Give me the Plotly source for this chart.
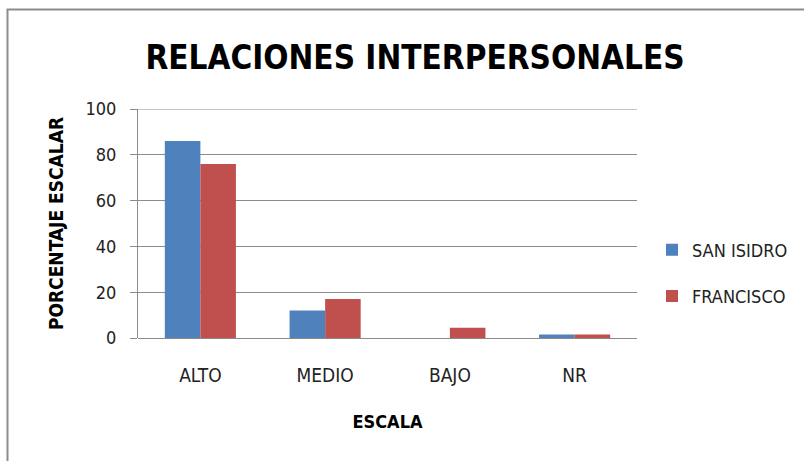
import plotly.graph_objects as go

categories = ["ALTO", "MEDIO", "BAJO", "NR"]
san_isidro = [86, 12, 0, 1.5]
francisco = [76, 17, 4.5, 1.5]
y_ticks = [0, 20, 40, 60, 80, 100]

W, H = 804, 461
L, R, T, B = 138, 167, 109, 123
pw, ph = W - L - R, H - T - B

def px_x(x):
    return (x - L) / pw

def px_y(y):
    return (H - B - y) / ph

font_main = "Liberation Sans Narrow, Arial Narrow, DejaVu Sans Condensed, Arial, sans-serif"
grid_col = "#8C8C8C"

fig = go.Figure()
fig.add_trace(go.Bar(x=categories, y=san_isidro, name="SAN ISIDRO",
                     marker=dict(color="#4F81BD", line=dict(width=0)),
                     legendgroup="a"))
fig.add_trace(go.Bar(x=categories, y=francisco, name="FRANCISCO",
                     marker=dict(color="#C0504D", line=dict(width=0)),
                     legendgroup="b"))

fig.update_layout(
    width=W, height=H,
    margin=dict(l=L, r=R, t=T, b=B, autoexpand=False),
    paper_bgcolor="white", plot_bgcolor="white",
    barmode="group", bargap=0.43, bargroupgap=0,
    font=dict(family=font_main, size=16, color="#222"),
    title=dict(text="<b>RELACIONES INTERPERSONALES</b>",
               x=px_x(415), xref="paper", xanchor="center",
               y=1 - 57 / H, yref="container", yanchor="middle",
               font=dict(size=33, color="black", family=font_main)),
    xaxis=dict(showgrid=False, showline=False, ticks="",
               ticklabelstandoff=24,
               tickfont=dict(size=19, color="#222"),
               title=dict(text="<b>ESCALA</b>", standoff=30,
                          font=dict(size=18, color="black"))),
    yaxis=dict(range=[y_ticks[0], y_ticks[-1]], tickvals=y_ticks, showgrid=True,
               gridcolor=grid_col, gridwidth=1,
               showline=True, linecolor=grid_col, linewidth=1,
               ticks="outside", ticklen=7, tickcolor=grid_col,
               ticklabelstandoff=10,
               zeroline=True, zerolinecolor=grid_col, zerolinewidth=1,
               tickfont=dict(size=18, color="#222"),
               title=dict(text="<b>PORCENTAJE ESCALAR</b>", standoff=16,
                          font=dict(size=19, color="black"))),
    legend=dict(x=px_x(652), y=px_y(273), xanchor="left", yanchor="middle",
                traceorder="grouped", tracegroupgap=20,
                font=dict(size=18, color="#222"),
                bgcolor="rgba(0,0,0,0)"),
    showlegend=True,
)

# top gridline (at the last y tick), which plotly omits at the plot edge
fig.add_shape(type="line", xref="paper", yref="y",
              x0=0, x1=1, y0=y_ticks[-1], y1=y_ticks[-1],
              line=dict(color=grid_col, width=1), layer="below")

# outer chart frame
fig.add_shape(type="rect", xref="paper", yref="paper",
              x0=px_x(7.5), x1=px_x(W + 20), y0=px_y(H + 20), y1=px_y(9.5),
              line=dict(color=grid_col, width=2), fillcolor="rgba(0,0,0,0)",
              layer="below")

fig.write_html("out.html", config={"displayModeBar": False},
               post_script="document.body.style.margin='0';")
